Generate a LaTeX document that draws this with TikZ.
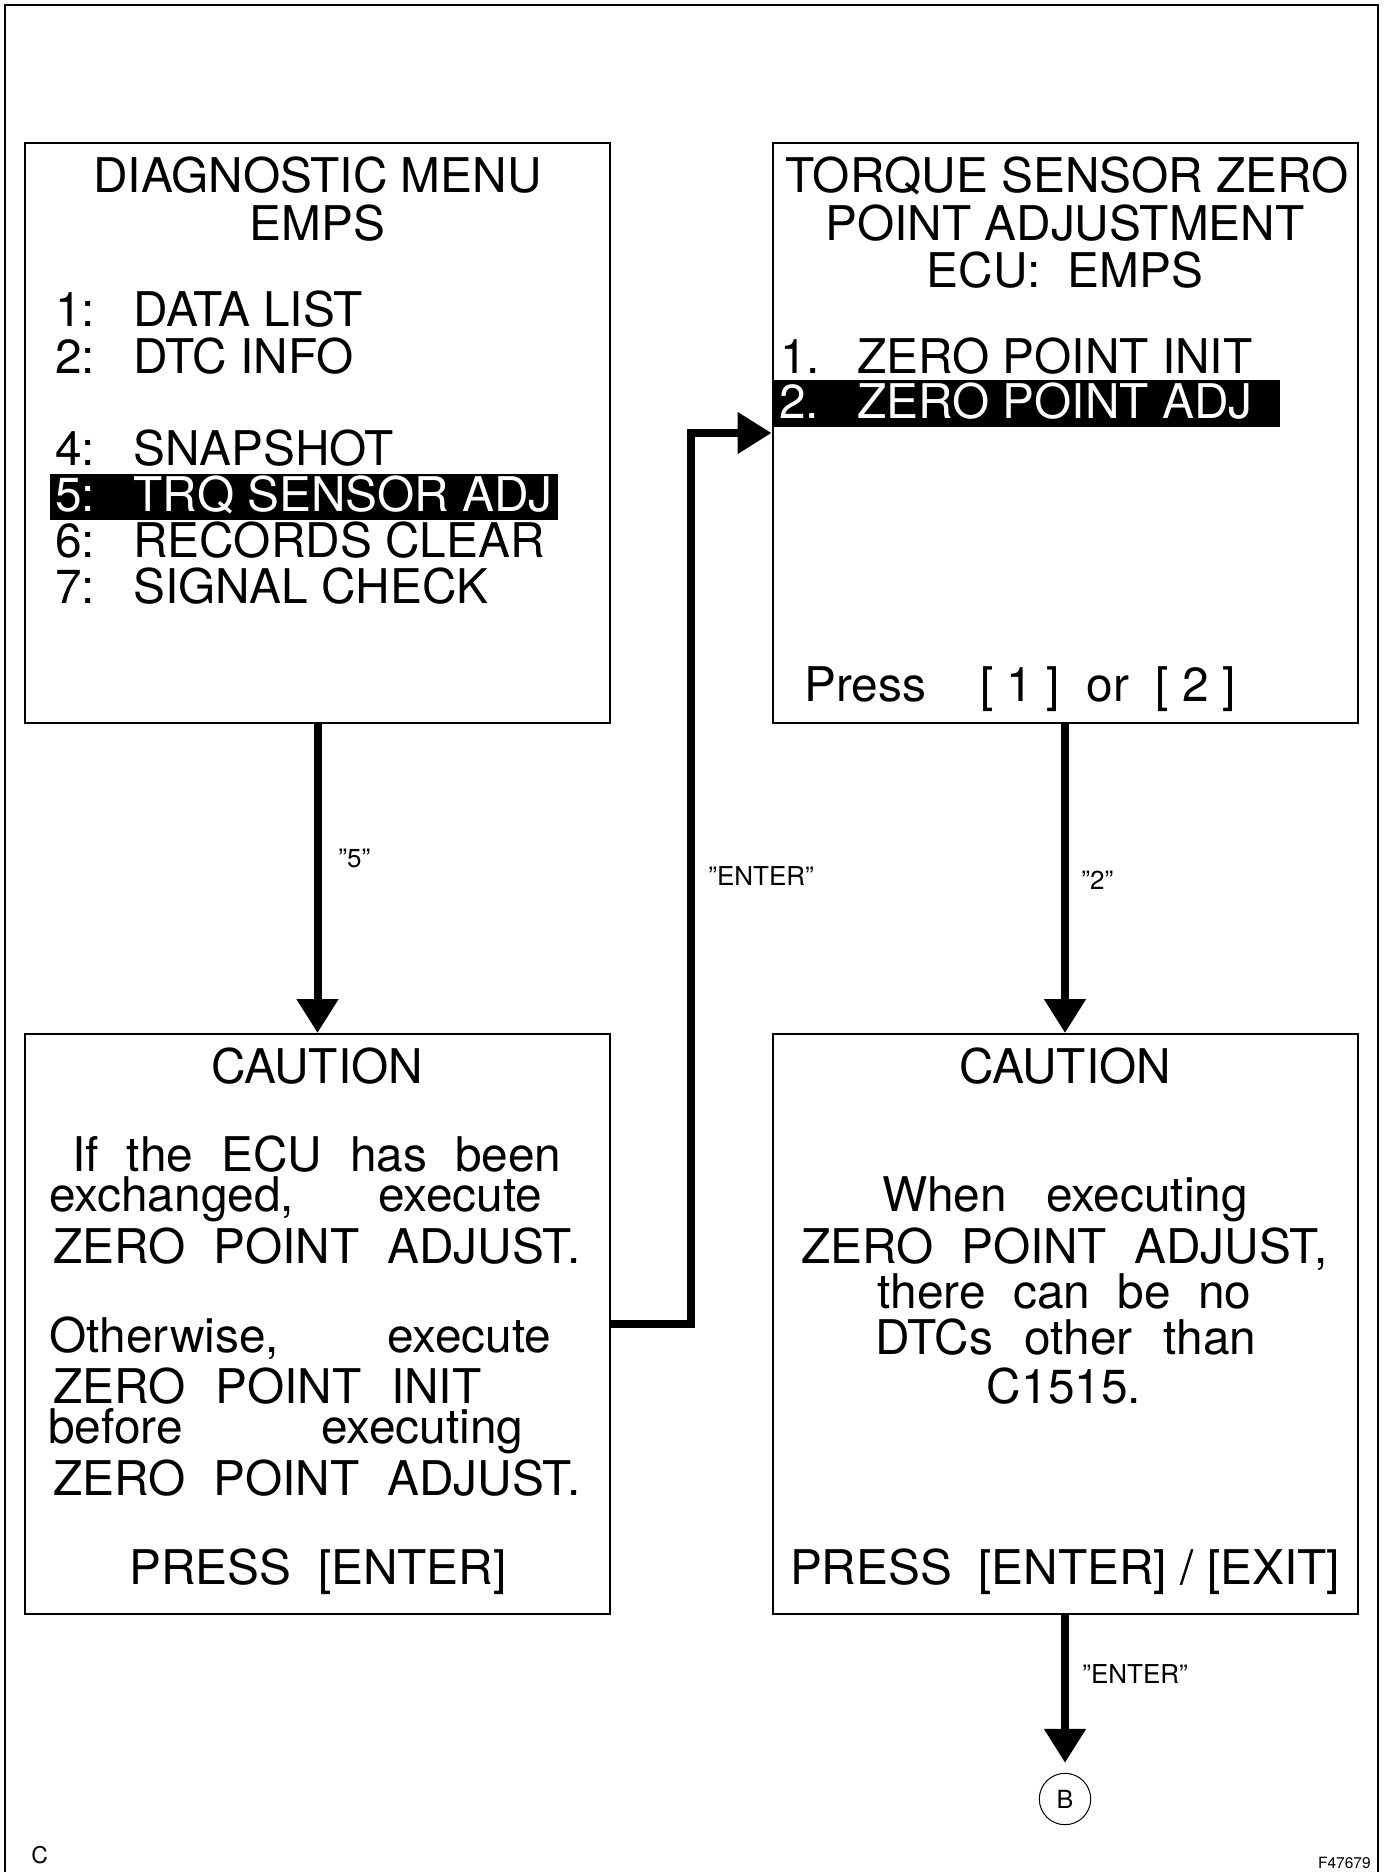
\documentclass[tikz,border=0pt]{standalone}
\usepackage{fontspec}
\setmainfont{TeX Gyre Heros}
\usetikzlibrary{arrows.meta}

\tikzset{
  screen/.style={draw, line width=1pt, minimum width=292.5pt, minimum height=290pt, inner sep=0pt},
  screentext/.style={inner sep=0pt, font=\fontsize{23.9pt}{23.9pt}\selectfont},
  keylabel/.style={inner sep=0pt, anchor=base west, font=\fontsize{13pt}{13pt}\selectfont},
  flow/.style={line width=4pt, -{Triangle[width=20pt,length=17pt]}},
}
\newcommand{\spreadline}[2]{\makebox[#1][s]{#2}}

\begin{document}
\begin{tikzpicture}[x=0.5pt,y=-0.5pt]
    \useasboundingbox (0,0) rectangle (1386,1872);
    \draw[line width=1.3pt] (5,1872) -- (5,5) -- (1378,5) -- (1378,1872);

    % the four screens
    \node[screen] (menu) at (317.5,433) {};
    \node[screen] (zeroadj) at (1065,433) {};
    \node[screen] (warnecu) at (317.5,1324) {};
    \node[screen] (warndtc) at (1065,1324) {};

    % diagnostic menu
    \node[screentext, anchor=base] at (317.5,193) {DIAGNOSTIC MENU};
    \node[screentext, anchor=base] at (317.5,241) {EMPS};
    \foreach \num/\entry/\ypos in {1/DATA LIST/327, 2/DTC INFO/373, 4/SNAPSHOT/465, 6/RECORDS CLEAR/557, 7/SIGNAL CHECK/603} {
        \node[screentext, anchor=base west] at (55,\ypos) {\num:};
        \node[screentext, anchor=base west] at (133,\ypos) {\entry};
    }
    \fill (50,474) rectangle (558,520);
    \node[screentext, anchor=base west, white] at (55,511) {5:};
    \node[screentext, anchor=base west, white] at (133,511) {TRQ SENSOR ADJ};

    % zero point screen
    \node[screentext, anchor=base] at (1067,193) {TORQUE SENSOR ZERO};
    \node[screentext, anchor=base] at (1065,241) {POINT ADJUSTMENT};
    \node[screentext, anchor=base] at (1065,288) {ECU:~~EMPS};
    \node[screentext, anchor=base west] at (780,373) {1.};
    \node[screentext, anchor=base west] at (857,373) {ZERO POINT INIT};
    \fill (773,380) rectangle (1280,427);
    \node[screentext, anchor=base west, white] at (779,418) {2.};
    \node[screentext, anchor=base west, white] at (857,418) {ZERO POINT ADJ};
    \node[screentext, anchor=base west] at (804,701) {Press};
    \node[screentext, anchor=base west] at (980,701) {[ 1 ]~~or~~[ 2 ]};

    % caution, ecu exchanged
    \node[screentext, anchor=base] at (317,1083) {CAUTION};
    \node[screentext, anchor=base west] at (72,1171) {\spreadline{244.5pt}{If the ECU has been}};
    \node[screentext, anchor=base west] at (49,1211) {\spreadline{246.5pt}{exchanged, execute}};
    \node[screentext, anchor=base west] at (53,1263) {\spreadline{263.5pt}{ZERO POINT ADJUST.}};
    \node[screentext, anchor=base west] at (49,1352) {\spreadline{251pt}{Otherwise, execute}};
    \node[screentext, anchor=base west] at (53,1403) {\spreadline{214pt}{ZERO POINT INIT}};
    \node[screentext, anchor=base west] at (48,1443) {\spreadline{237.5pt}{before executing}};
    \node[screentext, anchor=base west] at (53,1495) {\spreadline{263.5pt}{ZERO POINT ADJUST.}};
    \node[screentext, anchor=base] at (318,1584) {PRESS~~[ENTER]};

    % caution, other dtcs
    \node[screentext, anchor=base] at (1065,1083) {CAUTION};
    \node[screentext, anchor=base] at (1065,1211) {\spreadline{183pt}{When executing}};
    \node[screentext, anchor=base] at (1064.5,1263) {\spreadline{263pt}{ZERO POINT ADJUST,}};
    \node[screentext, anchor=base] at (1064.5,1308) {\spreadline{187pt}{there can be no}};
    \node[screentext, anchor=base] at (1066,1354) {\spreadline{190.5pt}{DTCs other than}};
    \node[screentext, anchor=base] at (1064,1403) {C1515.};
    \node[screentext, anchor=base] at (1065,1584) {PRESS~~[ENTER] / [EXIT]};

    % connectors
    \draw[flow] (menu.south) -- (warnecu.north);
    \coordinate (bend) at (691,433);
    \draw[flow] (warnecu.east) -| (bend) -- (zeroadj.west);
    \draw[flow] (zeroadj.south) -- (warndtc.north);
    \node[draw, circle, line width=0.5pt, minimum size=25.7pt, inner sep=0pt, font=\fontsize{12.5pt}{12.5pt}\selectfont] (btag) at (1065,1799) {B};
    \draw[flow, shorten >=5pt] (warndtc.south) -- (btag.north);

    \node[keylabel] at (338,867) {”5”};
    \node[keylabel] at (708,885) {”ENTER”};
    \node[keylabel] at (1081,889) {”2”};
    \node[keylabel] at (1082,1683) {”ENTER”};

    \node[inner sep=0pt, anchor=base west, font=\fontsize{11.5pt}{11.5pt}\selectfont] at (31,1863) {C};
    \node[inner sep=0pt, anchor=base east, font=\fontsize{7.75pt}{7.75pt}\selectfont] at (1371,1868) {F47679};
\end{tikzpicture}
\end{document}
